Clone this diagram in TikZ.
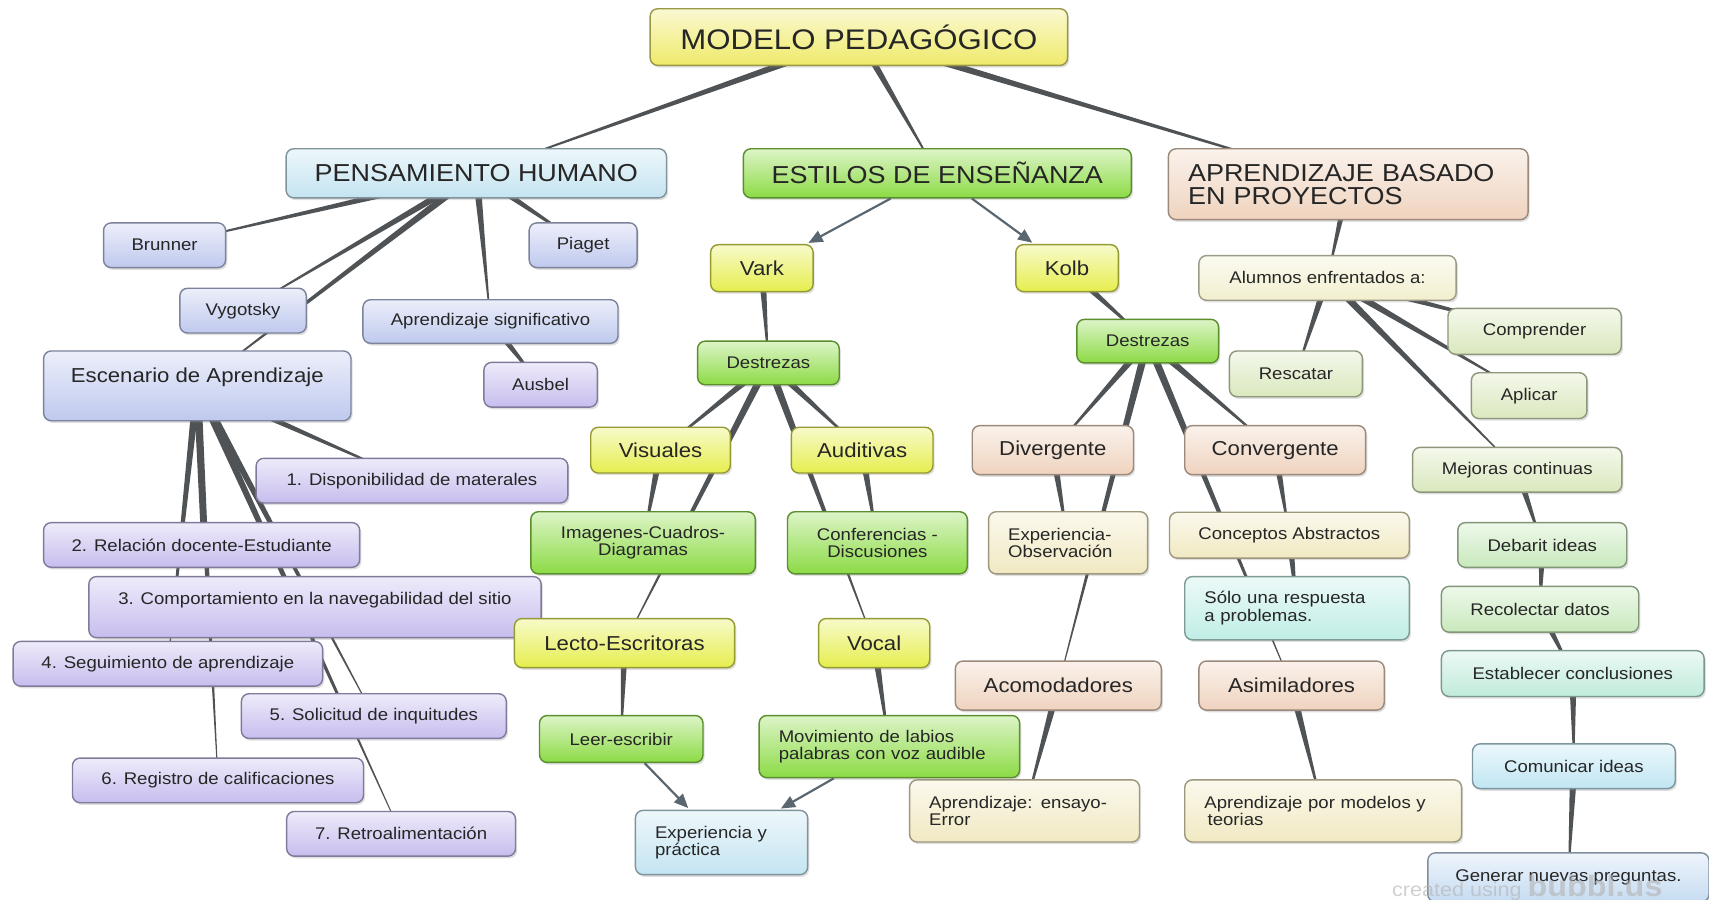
\documentclass[tikz,border=0pt]{standalone}
\usepackage{fontspec}
\setmainfont{Liberation Sans}[FakeStretch=1.1]
\usetikzlibrary{shadows,backgrounds,calc,arrows.meta}

\definecolor{cTop}{HTML}{EFEA6A}
\definecolor{cYel}{HTML}{E6EE4E}
\definecolor{cGrn}{HTML}{8CDB45}
\definecolor{cPer}{HTML}{BFC9EE}
\definecolor{cLav}{HTML}{C7BDEE}
\definecolor{cSky}{HTML}{C4E4F1}
\definecolor{cPea}{HTML}{EFD3BE}
\definecolor{cCre}{HTML}{F1E9C2}
\definecolor{cAqu}{HTML}{C0EDE6}
\definecolor{cIvo}{HTML}{F2EFCF}
\definecolor{cSag}{HTML}{DAE8BD}
\definecolor{cMin}{HTML}{C8E9BC}
\definecolor{cTea}{HTML}{C0EBDB}
\definecolor{cCya}{HTML}{C0E6F3}
\definecolor{cBlu}{HTML}{C6DCF2}
\definecolor{linkc}{HTML}{4F5356}
\definecolor{arrowc}{HTML}{5A6670}

\newcommand\szA{\fontsize{26}{28}\selectfont}
\newcommand\szB{\fontsize{22.5}{21}\selectfont}
\newcommand\szC{\fontsize{18.5}{20}\selectfont}
\newcommand\szD{\fontsize{15.5}{16}\selectfont}

\tikzset{
  box/.style={rounded corners=7pt, draw=#1!65!black, line width=1.3pt,
    top color=#1!30!white, bottom color=#1, text=black!85, align=center,
    drop shadow={shadow xshift=1.5pt, shadow yshift=-2pt, opacity=0.25}},
  wh/.style 2 args={minimum width=#1pt, minimum height=#2pt},
  lft/.style={align=left, inner xsep=18pt, text width=#1pt},
  arr/.style={draw=arrowc, line width=2pt, -{Triangle[length=13pt,width=11pt]}, shorten >=2pt},
}

\begin{document}
\begin{tikzpicture}[x=1pt, y=-1pt]
\useasboundingbox (0,0) rectangle (1568,825);

\node[box=cTop, wh={383}{52}, font=\szA] (top) at (788,34) {MODELO PEDAGÓGICO};
\node[box=cSky, wh={349}{45}, font=\szB] (ph) at (437,159) {PENSAMIENTO HUMANO};
\node[box=cGrn, wh={356}{45}, font=\szB] (es) at (860,159) {ESTILOS DE ENSEÑANZA};
\node[box=cPea, wh={330}{65}, font=\szB, lft=294] (ap) at (1237,169) {APRENDIZAJE BASADO\\EN PROYECTOS};

% pensamiento humano
\node[box=cPer, wh={112}{41}, font=\szD] (brunner) at (151,225) {Brunner};
\node[box=cPer, wh={99}{41}, font=\szD] (piaget) at (535,225) {Piaget};
\node[box=cPer, wh={116}{41}, font=\szD] (vygotsky) at (223,285) {Vygotsky};
\node[box=cPer, wh={234}{40}, font=\szD] (signif) at (450,295) {Aprendizaje significativo};
\node[box=cLav, wh={104}{41}, font=\szD] (ausbel) at (496,353) {Ausbel};
\node[box=cPer, wh={282}{64}, font=\szC, text height=13pt, text depth=20pt] (escenario) at (181,354) {Escenario de Aprendizaje};

\node[box=cLav, wh={286}{41}, font=\szD] (m1) at (378,441) {1. Disponibilidad de materales};
\node[box=cLav, wh={290}{41}, font=\szD] (m2) at (185,500) {2. Relación docente-Estudiante};
\node[box=cLav, wh={415}{56}, font=\szD, text height=12pt, text depth=17pt] (m3) at (289,557) {3. Comportamiento en la navegabilidad del sitio};
\node[box=cLav, wh={284}{41}, font=\szD] (m4) at (154,609) {4. Seguimiento de aprendizaje};
\node[box=cLav, wh={243}{41}, font=\szD] (m5) at (343,657) {5. Solicitud de inquitudes};
\node[box=cLav, wh={267}{41}, font=\szD] (m6) at (200,716) {6. Registro de calificaciones};
\node[box=cLav, wh={210}{41}, font=\szD] (m7) at (368,765) {7. Retroalimentación};

% estilos de enseñanza
\node[box=cYel, wh={94}{43}, font=\szC] (vark) at (699,246) {Vark};
\node[box=cYel, wh={94}{43}, font=\szC] (kolb) at (979,246) {Kolb};
\node[box=cGrn, wh={130}{40}, font=\szD] (destrV) at (705,333) {Destrezas};
\node[box=cYel, wh={128}{42}, font=\szC] (visual) at (606,413) {Visuales};
\node[box=cYel, wh={130}{42}, font=\szC] (audit) at (791,413) {Auditivas};
\node[box=cGrn, wh={206}{57}, font=\szD] (imag) at (590,498) {Imagenes-Cuadros-\\Diagramas};
\node[box=cGrn, wh={165}{57}, font=\szD] (confer) at (805,498) {Conferencias -\\Discusiones};
\node[box=cYel, wh={202}{45}, font=\szC] (lecto) at (573,590) {Lecto-Escritoras};
\node[box=cYel, wh={102}{45}, font=\szC] (vocal) at (802,590) {Vocal};
\node[box=cGrn, wh={150}{43}, font=\szD] (leer) at (570,678) {Leer-escribir};
\node[box=cGrn, wh={239}{57}, font=\szD, lft=203] (movim) at (816,685) {Movimiento de labios\\palabras con voz audible};
\node[box=cSky, wh={158}{59}, font=\szD, lft=122] (practica) at (662,773) {Experiencia y\\práctica};

\node[box=cGrn, wh={130}{40}, font=\szD] (destrK) at (1053,313) {Destrezas};
\node[box=cPea, wh={148}{45}, font=\szC] (diverg) at (966,413) {Divergente};
\node[box=cPea, wh={166}{45}, font=\szC] (converg) at (1170,413) {Convergente};
\node[box=cCre, wh={146}{57}, font=\szD, lft=110] (expobs) at (980,498) {Experiencia-\\Observación};
\node[box=cCre, wh={220}{42}, font=\szD] (abstr) at (1183,491) {Conceptos Abstractos};
\node[box=cAqu, wh={206}{58}, font=\szD, lft=170] (solo) at (1190,558) {Sólo una respuesta\\a problemas.};
\node[box=cPea, wh={189}{45}, font=\szC] (acomod) at (971,629) {Acomodadores};
\node[box=cPea, wh={170}{45}, font=\szC] (asimil) at (1185,629) {Asimiladores};
\node[box=cCre, wh={211}{57}, font=\szD, lft=175] (ensayo) at (940,744) {Aprendizaje: ensayo-\\Error};
\node[box=cCre, wh={254}{57}, font=\szD, lft=218] (modelos) at (1214,744) {Aprendizaje por modelos y\\\hspace*{3pt}teorias};

% aprendizaje basado en proyectos
\node[box=cIvo, wh={236}{41}, font=\szD] (alumnos) at (1218,255) {Alumnos enfrentados a:};
\node[box=cSag, wh={159}{42}, font=\szD] (compr) at (1408,304) {Comprender};
\node[box=cSag, wh={122}{42}, font=\szD] (rescat) at (1189,343) {Rescatar};
\node[box=cSag, wh={106}{42}, font=\szD] (aplic) at (1403,363) {Aplicar};
\node[box=cSag, wh={192}{41}, font=\szD] (mejoras) at (1392,431) {Mejoras continuas};
\node[box=cMin, wh={155}{41}, font=\szD] (debat) at (1415,500) {Debarit ideas};
\node[box=cMin, wh={181}{42}, font=\szD] (recol) at (1413,559) {Recolectar datos};
\node[box=cTea, wh={241}{42}, font=\szD] (concl) at (1443,618) {Establecer conclusiones};
\node[box=cCya, wh={186}{41}, font=\szD] (comun) at (1444,703) {Comunicar ideas};
\node[box=cBlu, wh={258}{45}, font=\szD] (pregun) at (1439,805) {Generar nuevas preguntas.};

\node[text=black!30, opacity=0.6, anchor=west, inner sep=0pt] (marca) at (1277,815) {\fontsize{18}{18}\selectfont created using {\fontsize{27}{27}\selectfont\bfseries bubbl.us}};

\begin{scope}[on background layer]
\fill[white] (0,0) rectangle (1568,825);
\foreach \p/\c in {top/ph, top/es, top/ap, ph/brunner, ph/piaget, ph/vygotsky,
    ph/escenario, ph/signif, signif/ausbel, escenario/m1, escenario/m2,
    escenario/m3, escenario/m4, escenario/m5, escenario/m6, escenario/m7,
    vark/destrV, destrV/visual, destrV/audit, destrV/lecto, destrV/vocal,
    visual/imag, audit/confer, lecto/leer, vocal/movim, kolb/destrK,
    destrK/diverg, destrK/converg, destrK/acomod, destrK/asimil,
    diverg/expobs, converg/abstr, abstr/solo, acomod/ensayo, asimil/modelos,
    ap/alumnos, alumnos/rescat, alumnos/compr, alumnos/aplic, alumnos/mejoras,
    mejoras/debat, debat/recol, recol/concl, concl/comun, comun/pregun}
  \fill[linkc] ($(\p.center)!3.5pt!90:(\c.center)$) -- ($(\p.center)!3.5pt!-90:(\c.center)$)
    -- ($(\c.center)!0.3pt!90:(\p.center)$) -- ($(\c.center)!0.3pt!-90:(\p.center)$) -- cycle;
\end{scope}

\draw[arr] (es) -- (vark);
\draw[arr] (es) -- (kolb);
\draw[arr] (leer) -- (practica);
\draw[arr] (movim) -- (practica);
\end{tikzpicture}
\end{document}
